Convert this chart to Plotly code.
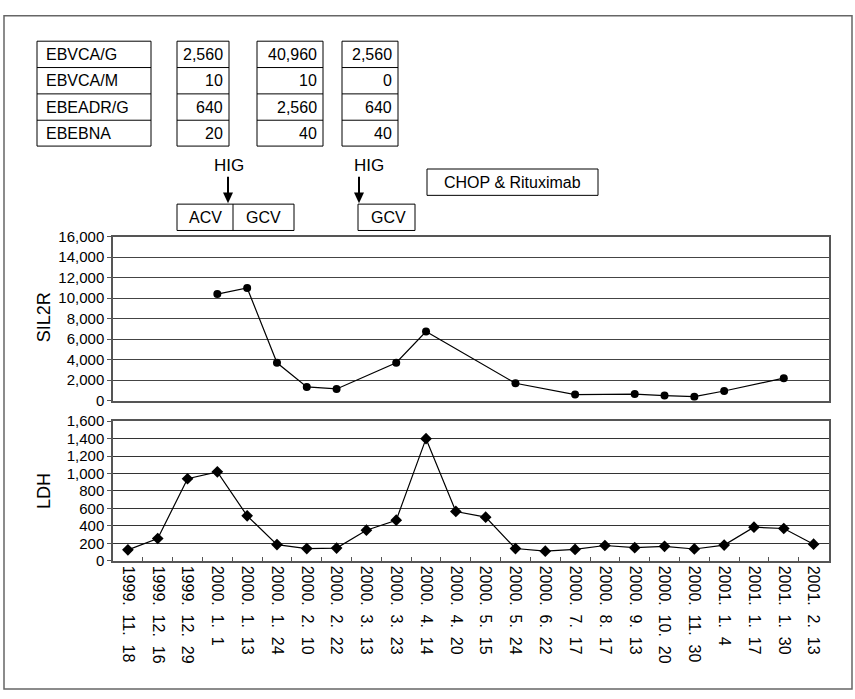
import plotly.graph_objects as go

W, H = 855, 699
NB = "\u00a0\u00a0"

# ---------------- data ----------------
dates = ["1999.11.18", "1999.12.16", "1999.12.29", "2000.1.1", "2000.1.13", "2000.1.24",
         "2000.2.10", "2000.2.22", "2000.3.13", "2000.3.23", "2000.4.14", "2000.4.20",
         "2000.5.15", "2000.5.24", "2000.6.22", "2000.7.17", "2000.8.17", "2000.9.13",
         "2000.10.20", "2000.11.30", "2001.1.4", "2001.1.17", "2001.1.30", "2001.2.13"]
tick_text = [(NB).join(p + "." if i < 2 else p for i, p in enumerate(d.split("."))) for d in dates]

sil2r = [None, None, None, 10400, 11000, 3700, 1350, 1150, None, 3700, 6750, None,
         None, 1700, None, 600, None, 650, 500, 400, 950, None, 2200, None]
ldh = [125, 255, 940, 1020, 515, 185, 140, 145, 350, 465, 1400, 565,
       500, 140, 110, 130, 175, 150, 165, 135, 180, 385, 370, 190]

table_rows = ["EBVCA/G", "EBVCA/M", "EBEADR/G", "EBEBNA"]
titer_set1 = [2560, 10, 640, 20]
titer_set2 = [40960, 10, 2560, 40]
titer_set3 = [2560, 0, 640, 40]

hig_label = "HIG"
drug_box1 = ["ACV", "GCV"]
drug_box2 = ["GCV"]
chemo_label = "CHOP & Rituximab"

FONT = "Liberation Sans, Arial, Helvetica, sans-serif"


def px(x):
    return x / W


def py(y):
    return 1 - y / H


fig = go.Figure()
fig.add_trace(go.Scatter(x=dates, y=sil2r, mode="lines+markers", connectgaps=True,
                         line=dict(color="black", width=1.2),
                         marker=dict(symbol="circle", size=8, color="black"),
                         xaxis="x", yaxis="y", showlegend=False))
fig.add_trace(go.Scatter(x=dates, y=ldh, mode="lines+markers",
                         line=dict(color="black", width=1.2),
                         marker=dict(symbol="diamond", size=9, color="black"),
                         xaxis="x2", yaxis="y2", showlegend=False))

xdom = [px(113), px(828.5)]
y1dom = [py(401.5), py(233.3)]
y2dom = [py(565.5), py(422.5)]

axis_common = dict(showline=True, mirror=True, linecolor="#555", linewidth=1.5,
                   zeroline=False)

fig.update_layout(
    width=W, height=H, margin=dict(l=0, r=0, t=0, b=0),
    paper_bgcolor="white", plot_bgcolor="white",
    font=dict(family=FONT, color="black"),
    xaxis=dict(domain=xdom, anchor="y", type="category", categoryorder="array",
               categoryarray=dates, range=[-0.5, 23.5], showticklabels=False,
               showgrid=False, ticks="", **axis_common),
    yaxis=dict(domain=y1dom, anchor="x", range=[0, 16000], dtick=2000, tickformat=",",
               showgrid=True, gridcolor="#444", gridwidth=1, ticks="outside", ticklen=4,
               tickcolor="#555", tickfont=dict(size=15, family=FONT), **axis_common),
    xaxis2=dict(domain=xdom, anchor="y2", type="category", categoryorder="array",
                categoryarray=dates, range=[-0.5, 23.5], tickvals=dates, ticktext=tick_text,
                tickangle=90, ticks="inside", ticklen=4, tickcolor="#555",
                tickson="boundaries", showgrid=False,
                tickfont=dict(size=16, family=FONT), **axis_common),
    yaxis2=dict(domain=y2dom, anchor="x2", range=[0, 1600], dtick=200, tickformat=",",
                showgrid=True, gridcolor="#333", gridwidth=1, ticks="outside", ticklen=4,
                tickcolor="#555", tickfont=dict(size=15, family=FONT), **axis_common),
)

shapes = []
annotations = []


def rect(x0, y0, x1, y1, color="black", width=1):
    shapes.append(dict(type="rect", xref="paper", yref="paper",
                       x0=px(x0), x1=px(x1), y0=py(y1), y1=py(y0),
                       line=dict(color=color, width=width)))


def hline(x0, x1, y, color="black", width=1):
    shapes.append(dict(type="line", xref="paper", yref="paper",
                       x0=px(x0), x1=px(x1), y0=py(y), y1=py(y),
                       line=dict(color=color, width=width)))


def vline(x, y0, y1, color="black", width=1):
    shapes.append(dict(type="line", xref="paper", yref="paper",
                       x0=px(x), x1=px(x), y0=py(y0), y1=py(y1),
                       line=dict(color=color, width=width)))


def text(x, y, s, size=16, xanchor="center", angle=0):
    annotations.append(dict(xref="paper", yref="paper", x=px(x), y=py(y), text=s,
                            showarrow=False, xanchor=xanchor, yanchor="middle",
                            textangle=angle, font=dict(size=size, family=FONT, color="black")))


# outer frame
rect(4, 7, 852, 697, color="#666", width=1.5)

# titer table
row_edges = [33, 60, 87, 114, 140.5]
boxes = [(37, 151, None), (177, 229, titer_set1), (257, 323, titer_set2), (342, 398, titer_set3)]
for bx0, bx1, vals in boxes:
    rect(bx0, row_edges[0], bx1, row_edges[-1])
    for ry in row_edges[1:-1]:
        hline(bx0, bx1, ry)
    for i in range(4):
        cy = (row_edges[i] + row_edges[i + 1]) / 2
        if vals is None:
            text(bx0 + 7, cy, table_rows[i], size=16, xanchor="left")
        else:
            text(bx1 - 4, cy, f"{vals[i]:,}", size=16, xanchor="right")

# HIG labels and arrows
for hx, ax in [(229, 228), (369, 359)]:
    text(hx, 160, hig_label, size=17)
    vline(ax, 172, 190, width=2)
    shapes.append(dict(type="path", xref="paper", yref="paper",
                       path=f"M {px(ax-5)} {py(188)} L {px(ax+5)} {py(188)} L {px(ax)} {py(199)} Z",
                       fillcolor="black", line=dict(color="black", width=0)))

# drug boxes
rect(177, 200, 294, 227)
vline(233, 200, 227)
text(205.5, 214, drug_box1[0], size=16)
text(263, 214, drug_box1[1], size=16)
rect(358, 200, 415, 227)
text(388, 214, drug_box2[0], size=16)
rect(427, 164, 598, 191)
text(512.5, 178, chemo_label, size=16)

# axis titles
text(44, 316, "SIL2R", size=18, angle=-90)
text(44, 494, "LDH", size=18, angle=-90)

fig.update_layout(shapes=shapes, annotations=annotations)

post = """
var s=document.createElement('style');
s.textContent='html,body{margin:0!important;padding:0!important;overflow:hidden!important;width:855px;height:699px;} .plotly-graph-div{position:absolute!important;top:0!important;left:0!important;}';
document.head.appendChild(s);
"""
fig.write_html("out.html", post_script=post, config={"displayModeBar": False})
